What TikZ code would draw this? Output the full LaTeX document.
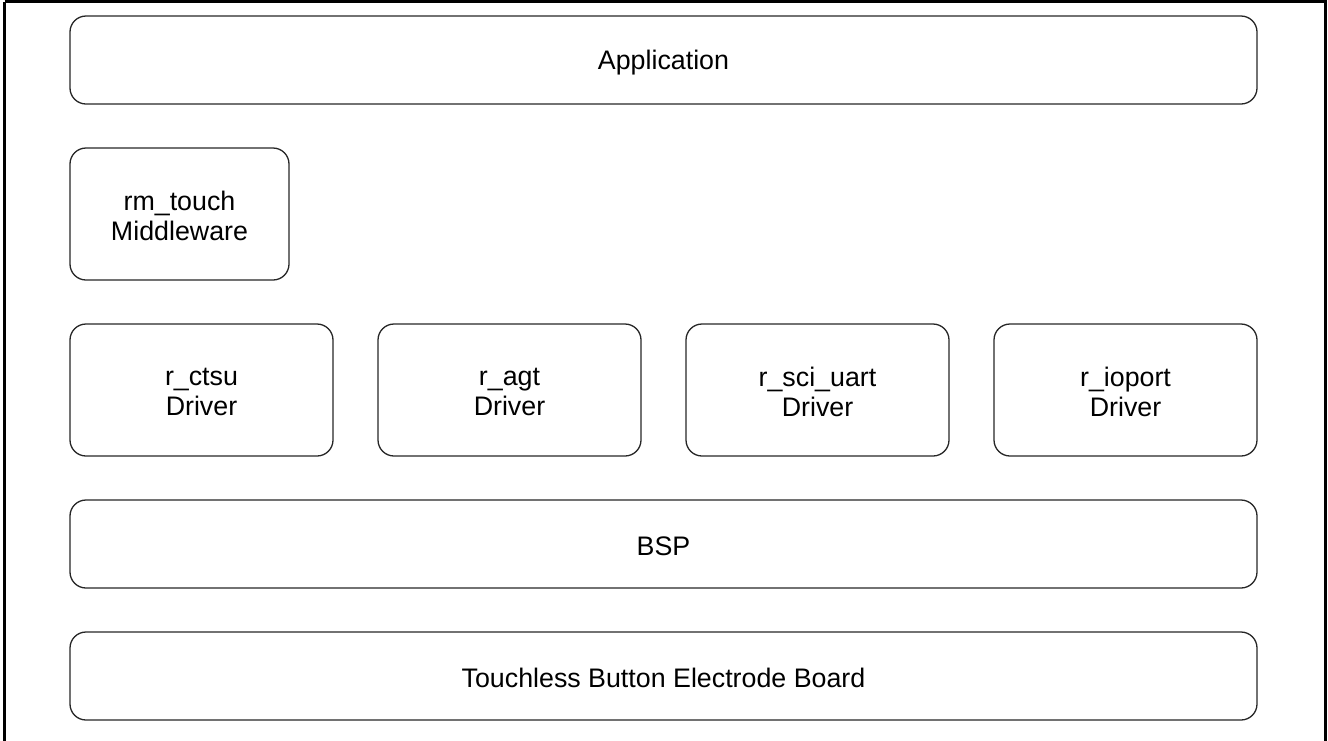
\documentclass[tikz,border=0pt]{standalone}
\usepackage{fontspec}
\setmainfont{Liberation Sans}
\begin{document}
\begin{tikzpicture}[x=1pt,y=-1pt,
  layer/.style={draw=black!85,line width=1.3pt,rounded corners=16pt},
  lbl/.style={font=\fontsize{26.8}{30}\selectfont,align=center,inner sep=0pt}]
\useasboundingbox (0,0) rectangle (1328,740);
\draw[line width=2.2pt] (4.5,1.5) -- (1325.5,1.5) -- (1325.5,745);
\draw[line width=2.2pt] (4.5,1.5) -- (4.5,745);
\draw[layer] (70,16) rectangle (1257,104);
\node[lbl] (app) at (663.5,63) {Application};
\draw[layer] (70,148) rectangle (289,280);
\node[lbl] (rm) at (179.5,216) {rm\_touch\\Middleware};
\draw[layer] (70,324) rectangle (333,456);
\node[lbl] (ctsu) at (201.5,392) {r\_ctsu\\Driver};
\draw[layer] (378,324) rectangle (641,456);
\node[lbl] (agt) at (509.5,392) {r\_agt\\Driver};
\draw[layer] (686,324) rectangle (949,456);
\node[lbl] (uart) at (817.5,392) {r\_sci\_uart\\Driver};
\draw[layer] (994,324) rectangle (1257,456);
\node[lbl] (io) at (1125.5,392) {r\_ioport\\Driver};
\draw[layer] (70,500) rectangle (1257,588);
\node[lbl] (bsp) at (663.5,546) {BSP};
\draw[layer] (70,632) rectangle (1257,720);
\node[lbl] (board) at (663.5,678) {Touchless Button Electrode Board};
\end{tikzpicture}
\end{document}
